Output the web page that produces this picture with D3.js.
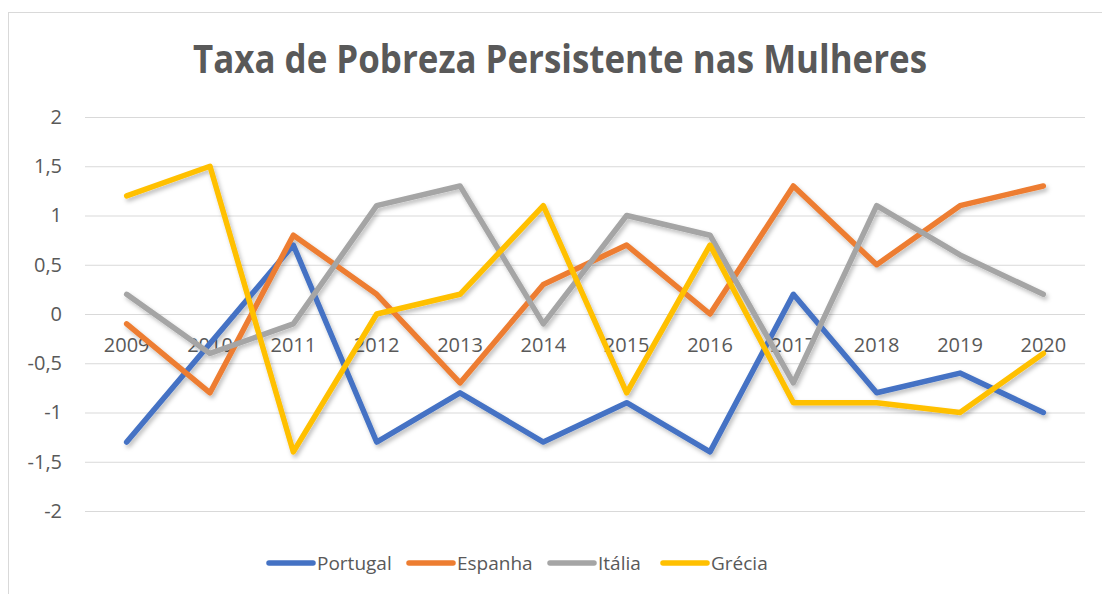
<!DOCTYPE html>
<html>
<head>
<meta charset="utf-8">
<script src="https://cdn.jsdelivr.net/npm/d3@7"></script>
<style>
  body { margin: 0; background: #fff; }
  svg { display: block; }
</style>
</head>
<body>
<svg id="chart" width="1102" height="594"></svg>
<script>
  const years = ["2009","2010","2011","2012","2013","2014","2015","2016","2017","2018","2019","2020"];
  const portugal = [-1.3,-0.3,0.7,-1.3,-0.8,-1.3,-0.9,-1.4,0.2,-0.8,-0.6,-1.0];
  const espanha  = [-0.1,-0.8,0.8,0.2,-0.7,0.3,0.7,0.0,1.3,0.5,1.1,1.3];
  const italia   = [0.2,-0.4,-0.1,1.1,1.3,-0.1,1.0,0.8,-0.7,1.1,0.6,0.2];
  const grecia   = [1.2,1.5,-1.4,0.0,0.2,1.1,-0.8,0.7,-0.9,-0.9,-1.0,-0.4];
  const yTicks = [2,1.5,1,0.5,0,-0.5,-1,-1.5,-2];
  const seriesNames = ["Portugal","Espanha","Itália","Grécia"];
  const seriesColors = ["#4472C4","#ED7D31","#A5A5A5","#FFC000"];
  const series = [portugal, espanha, italia, grecia];

  const svg = d3.select("#chart");
  const font = "'Open Sans', 'Noto Sans', sans-serif";

  // outer chart border (runs off the right and bottom edge)
  svg.append("rect")
    .attr("x", 8.5).attr("y", 12.5)
    .attr("width", 1200).attr("height", 700)
    .attr("fill", "#fff")
    .attr("stroke", "#d9d9d9");

  svg.append("text")
    .attr("x", 193).attr("y", 73)
    .attr("textLength", 734)
    .attr("lengthAdjust", "spacingAndGlyphs")
    .attr("font-family", font)
    .attr("font-weight", 700)
    .attr("font-size", 39)
    .attr("fill", "#595959")
    .text("Taxa de Pobreza Persistente nas Mulheres");

  const x = d3.scaleBand().domain(years).range([85, 1085]);
  const y = d3.scaleLinear().domain([-2, 2]).range([511, 117]);

  const defs = svg.append("defs");
  defs.append("filter").attr("id", "shadow")
    .attr("x", "-10%").attr("y", "-10%").attr("width", "120%").attr("height", "120%")
    .append("feDropShadow")
      .attr("dx", 2).attr("dy", 3)
      .attr("stdDeviation", 2)
      .attr("flood-color", "#000")
      .attr("flood-opacity", 0.25);

  // gridlines + y labels
  const yAxis = d3.axisLeft(y)
    .tickValues(yTicks)
    .tickSize(-1000)
    .tickPadding(23)
    .tickFormat(d => String(d).replace(".", ","));
  const gy = svg.append("g")
    .attr("transform", "translate(85,0)")
    .call(yAxis);
  gy.select(".domain").remove();
  gy.selectAll(".tick line").attr("stroke", "#d9d9d9").attr("stroke-width", 1);
  gy.selectAll(".tick text")
    .attr("font-family", font)
    .attr("font-size", 20)
    .attr("fill", "#595959");

  // category labels sit next to the zero line
  const xAxis = d3.axisBottom(x).tickSize(0).tickPadding(24);
  const gx = svg.append("g")
    .attr("transform", `translate(0,${y(0)})`)
    .call(xAxis);
  gx.select(".domain").remove();
  gx.selectAll(".tick text")
    .attr("font-family", font)
    .attr("font-size", 20)
    .attr("fill", "#595959");

  const line = d3.line()
    .x((d, i) => x(years[i]) + x.bandwidth() / 2)
    .y(d => y(d));

  svg.append("g")
    .attr("filter", "url(#shadow)")
    .selectAll("path")
    .data(series)
    .enter()
    .append("path")
      .attr("d", line)
      .attr("fill", "none")
      .attr("stroke", (d, i) => seriesColors[i])
      .attr("stroke-width", 5.5)
      .attr("stroke-linejoin", "round")
      .attr("stroke-linecap", "round");

  // legend
  const legendX = [269, 409, 550, 663];
  const legend = svg.append("g")
    .selectAll("g")
    .data(seriesNames)
    .enter()
    .append("g")
      .attr("transform", (d, i) => `translate(${legendX[i]},563)`);
  legend.append("line")
    .attr("x1", 0).attr("x2", 44)
    .attr("stroke", (d, i) => seriesColors[i])
    .attr("stroke-width", 5.5)
    .attr("stroke-linecap", "round");
  legend.append("text")
    .attr("x", 48).attr("y", 7)
    .attr("font-family", font)
    .attr("font-size", 19)
    .attr("fill", "#595959")
    .text(d => d);
</script>
</body>
</html>
